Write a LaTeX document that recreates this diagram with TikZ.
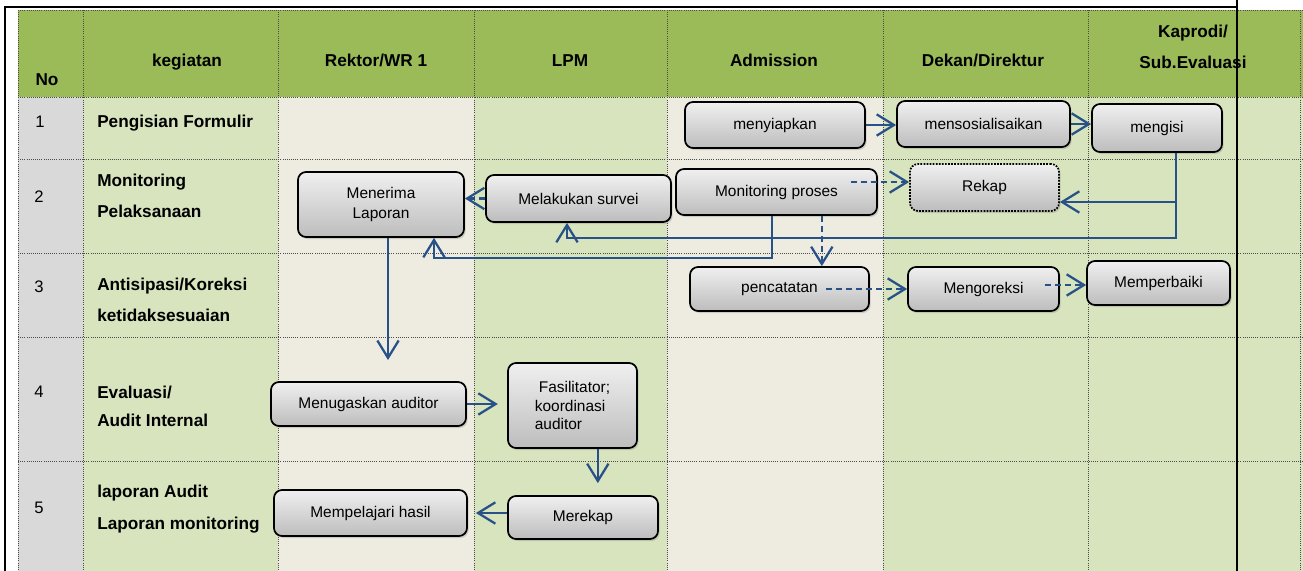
\documentclass[tikz,border=0pt]{standalone}
\usepackage{fontspec}
\setmainfont{Liberation Sans}
\usepackage{xcolor}
\usetikzlibrary{positioning, arrows.meta, calc, shadows}
\definecolor{hdrgreen}{HTML}{9BBB59}
\definecolor{cellgreen}{HTML}{D7E4BD}
\definecolor{cellbeige}{HTML}{EEECE1}
\definecolor{cellgray}{HTML}{D9D9D9}
\definecolor{flowblue}{HTML}{285188}

\begin{document}
\begin{tikzpicture}[x=0.75pt, y=-0.75pt, >={Straight Barb[length=13pt,width=16pt]},
    grid/.style={densely dotted, black!70, line width=0.6pt},
    hdr/.style={font=\fontsize{12.9}{23.25}\selectfont\bfseries, align=center},
    lbl/.style={font=\fontsize{12.9}{23.25}\selectfont\bfseries, align=left, anchor=west, inner sep=0pt},
    num/.style={font=\fontsize{12.5}{15}\selectfont, anchor=base west, inner sep=0pt},
    proc/.style={draw=black, line width=1.3pt, rounded corners=6pt,
        top color=black!6, bottom color=black!26,
        drop shadow={opacity=0.3, shadow xshift=1.2pt, shadow yshift=-1.5pt},
        font=\fontsize{11.6}{15}\selectfont, align=center, inner sep=2pt},
    sz/.style 2 args={minimum width=#1, minimum height=#2},
    flow/.style={->, flowblue, line width=1.7pt},
    dflow/.style={flow, dash pattern=on 4.5pt off 3pt}]
    \useasboundingbox (0,0) rectangle (1303,571);

    % Table background
    \fill[hdrgreen] (18,10) rectangle (1303,97);
    \foreach \xa/\xb/\col in {18/83/cellgray, 83/278/cellgreen, 278/474/cellbeige,
        474/667/cellgreen, 667/883/cellbeige, 883/1303/cellgreen}
        \fill[\col] (\xa,97) rectangle (\xb,571);

    % Grid lines
    \foreach \x in {18,83,278,474,667,883,1088,1300}
        \draw[grid] (\x,10) -- (\x,571);
    \foreach \y in {10,97,159,253,337,461}
        \draw[grid] (18,\y) -- (1303,\y);

    % Header
    \node[hdr, anchor=base] (h-no) at (47,85) {No};
    \node[hdr, anchor=base] (h-keg) at (187,66) {kegiatan};
    \node[hdr, anchor=base] (h-rek) at (376,66) {Rektor/WR 1};
    \node[hdr, anchor=base] (h-lpm) at (570,66) {LPM};
    \node[hdr, anchor=base] (h-adm) at (774,66) {Admission};
    \node[hdr, anchor=base] (h-dek) at (983,66) {Dekan/Direktur};
    \node[hdr] (h-kap) at (1193,47) {Kaprodi/\\Sub.Evaluasi};

    % Row numbers and activities
    \node[num] (n1) at (35,127) {1};
    \node[num] (n2) at (34,202) {2};
    \node[num] (n3) at (34,292) {3};
    \node[num] (n4) at (34,397) {4};
    \node[num] (n5) at (34,513) {5};
    \node[lbl, anchor=base west] (r1) at (97,127) {Pengisian Formulir};
    \node[lbl] (r2) at (97,196) {Monitoring\\Pelaksanaan};
    \node[lbl] (r3) at (97,300) {Antisipasi/Koreksi\\ketidaksesuaian};
    \node[lbl, font=\fontsize{12.9}{21}\selectfont\bfseries] (r4) at (97,406) {Evaluasi/\\Audit Internal};
    \node[lbl, font=\fontsize{12.9}{24}\selectfont\bfseries] (r5) at (97,509) {laporan Audit\\Laporan monitoring};

    % Process boxes
    \node[proc, sz={135pt}{34.5pt}] (prep) at (775,125) {menyiapkan};
    \node[proc, sz={129.75pt}{34.5pt}] (sosial) at (983.5,124) {mensosialisaikan};
    \node[proc, sz={97.5pt}{36pt}] (isi) at (1157,128) {mengisi};
    \node[proc, sz={124.5pt}{48.75pt}] (terima) at (381,204.5) {Menerima\\Laporan};
    \node[proc, sz={138.75pt}{35.25pt}] (survei) at (578.5,198.5) {Melakukan survei};
    \node[proc, sz={150.75pt}{34.5pt}] (monpro) at (776.5,192) {Monitoring proses};
    \node[proc, densely dotted, sz={111.75pt}{35.25pt}] (rekap) at (984.5,187.5) {Rekap};
    \node[proc, sz={134.25pt}{33pt}] (catat) at (779.5,289) {pencatatan};
    \node[proc, sz={113.25pt}{33pt}] (koreksi) at (983.5,289) {Mengoreksi};
    \node[proc, sz={107.25pt}{33pt}] (perbaiki) at (1158.5,283) {Memperbaiki};
    \node[proc, sz={146.25pt}{33pt}] (tugas) at (368.5,404) {Menugaskan auditor};
    \node[proc, sz={96.75pt}{63.75pt}, align=left, font=\fontsize{11.6}{13.75}\selectfont] (fasil) at (572.5,405.5) {\hspace*{3pt}Fasilitator;\\koordinasi\\auditor};
    \node[proc, sz={144.75pt}{34.5pt}] (pelajari) at (370.5,513) {Mempelajari hasil};
    \node[proc, sz={112.5pt}{32.25pt}] (merekap) at (583,517.5) {Merekap};

    % Connectors
    \draw[flow] (prep.east) -- (prep.east -| sosial.west);
    \draw[flow] (sosial.east) -- (sosial.east -| isi.west);
    \draw[dflow] (survei.west) -- (survei.west -| terima.east);
    \coordinate (isibawah) at (1176,238);
    \coordinate (kerekap) at (1176,202);
    \coordinate (kesurvei) at (567,238);
    \draw[flow] (isibawah |- isi.south) -- (isibawah) -- (kesurvei) -- (kesurvei |- survei.south);
    \draw[flow] (kerekap) -- (kerekap -| rekap.east);
    \coordinate (monbawah) at (772,258);
    \coordinate (keterima) at (434,258);
    \draw[flow] (monbawah |- monpro.south) -- (monbawah) -- (keterima) -- (keterima |- terima.south);
    \draw[dflow] ([shift={(-27,-10)}]monpro.east) coordinate (m1) -- (m1 -| rekap.west);
    \draw[dflow] ([xshift=34pt]monpro.south) coordinate (m2) -- (m2 |- catat.north);
    \draw[dflow] ([xshift=35pt]catat.center) coordinate (c1) -- (c1 -| koreksi.west);
    \draw[dflow] ([shift={(-15,-4)}]koreksi.east) coordinate (c2) -- (c2 -| perbaiki.west);
    \coordinate (tugasatas) at (388,360);
    \draw[flow] (tugasatas |- terima.south) -- (tugasatas);
    \draw[flow, shorten >=7pt] (tugas.east) -- (tugas.east -| fasil.west);
    \draw[flow, shorten >=9pt] ([xshift=19pt]fasil.south) coordinate (f1) -- (f1 |- merekap.north);
    \draw[flow, shorten >=6pt] (pelajari.east -| merekap.west) -- (pelajari.east);

    % Frame
    \draw[line width=1.6pt] (5,571) -- (5,7) -- (1237,7);
    \draw[line width=1.6pt] (1237,0) -- (1237,571);
\end{tikzpicture}
\end{document}
